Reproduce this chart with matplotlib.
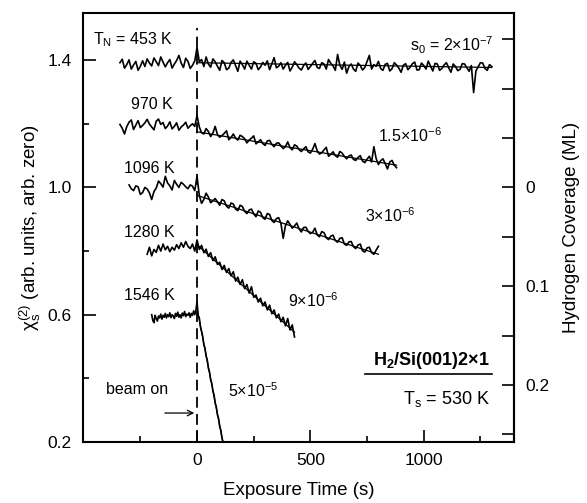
import numpy as np
import matplotlib
matplotlib.use('Agg')
import matplotlib.pyplot as plt
from matplotlib.ticker import FixedLocator

plt.rcParams['font.family'] = ['Liberation Sans', 'DejaVu Sans']
plt.rcParams['mathtext.fontset'] = 'custom'
plt.rcParams['mathtext.rm'] = 'Liberation Sans'
plt.rcParams['mathtext.it'] = 'Liberation Sans:italic'
plt.rcParams['mathtext.bf'] = 'Liberation Sans:bold'

# --- data (chi_s^(2) signal vs exposure time) ---
# 453 K, from t = -340 s every 10 s
t0_453, dt_453 = -340, 10
chi_453 = [1.392, 1.403, 1.375, 1.386, 1.401, 1.372, 1.385, 1.396, 1.368, 1.381,
           1.398, 1.380, 1.404, 1.391, 1.382, 1.407, 1.395, 1.383, 1.410, 1.394,
           1.379, 1.392, 1.402, 1.375, 1.388, 1.399, 1.415, 1.391, 1.377, 1.406,
           1.396, 1.374, 1.384, 1.398, 1.440, 1.395, 1.402, 1.380, 1.410, 1.388,
           1.378, 1.404, 1.395, 1.381, 1.368, 1.399, 1.392, 1.370, 1.375, 1.393,
           1.401, 1.383, 1.365, 1.397, 1.386, 1.372, 1.397, 1.384, 1.372, 1.395,
           1.390, 1.370, 1.379, 1.393, 1.384, 1.398, 1.370, 1.389, 1.408, 1.376,
           1.381, 1.392, 1.372, 1.384, 1.393, 1.366, 1.378, 1.395, 1.386, 1.375,
           1.369, 1.383, 1.391, 1.371, 1.380, 1.390, 1.399, 1.377, 1.374, 1.392,
           1.388, 1.372, 1.402, 1.390, 1.382, 1.368, 1.418, 1.384, 1.371, 1.394,
           1.359, 1.380, 1.388, 1.372, 1.365, 1.391, 1.383, 1.369, 1.377, 1.396,
           1.415, 1.372, 1.386, 1.381, 1.396, 1.374, 1.368, 1.387, 1.390, 1.366,
           1.373, 1.392, 1.385, 1.375, 1.362, 1.384, 1.389, 1.370, 1.378, 1.389,
           1.394, 1.369, 1.370, 1.391, 1.383, 1.372, 1.397, 1.381, 1.366, 1.390,
           1.388, 1.368, 1.374, 1.385, 1.392, 1.376, 1.362, 1.388, 1.380, 1.367,
           1.371, 1.389, 1.388, 1.376, 1.365, 1.383, 1.298, 1.366, 1.379, 1.392,
           1.391, 1.374, 1.368, 1.386, 1.380]

# 970 K, from t = -340 s every 10 s
t0_970, dt_970 = -340, 10
chi_970 = [1.198, 1.186, 1.168, 1.191, 1.205, 1.212, 1.182, 1.196, 1.210, 1.188,
           1.195, 1.203, 1.214, 1.199, 1.190, 1.181, 1.208, 1.215, 1.198, 1.204,
           1.185, 1.193, 1.206, 1.184, 1.192, 1.203, 1.180, 1.190, 1.196, 1.205,
           1.186, 1.194, 1.200, 1.192, 1.226, 1.190, 1.172, 1.168, 1.185, 1.176,
           1.160, 1.171, 1.192, 1.166, 1.158, 1.163, 1.170, 1.178, 1.150, 1.157,
           1.168, 1.155, 1.149, 1.164, 1.160, 1.153, 1.140, 1.149, 1.155, 1.162,
           1.137, 1.143, 1.150, 1.138, 1.132, 1.146, 1.148, 1.135, 1.128, 1.139,
           1.140, 1.131, 1.122, 1.128, 1.143, 1.125, 1.118, 1.134, 1.130, 1.119,
           1.113, 1.121, 1.128, 1.112, 1.108, 1.120, 1.138, 1.115, 1.105, 1.109,
           1.118, 1.126, 1.098, 1.104, 1.112, 1.100, 1.095, 1.113, 1.108, 1.097,
           1.090, 1.099, 1.102, 1.088, 1.085, 1.094, 1.100, 1.083, 1.078, 1.089,
           1.098, 1.080, 1.128, 1.091, 1.072, 1.084, 1.090, 1.075, 1.058, 1.080,
           1.085, 1.070, 1.062]

# 1096 K, from t = -300 s every 10 s
t0_1096, dt_1096 = -300, 10
chi_1096 = [1.008, 0.996, 0.990, 1.005, 1.002, 0.978, 0.984, 1.000, 0.995, 0.983,
            0.962, 0.987, 0.998, 1.020, 1.012, 1.001, 1.035, 1.014, 1.005, 0.992,
            1.022, 1.010, 1.000, 1.016, 1.010, 1.002, 0.996, 1.008, 1.004, 0.990,
            1.035, 0.975, 0.950, 0.962, 0.982, 0.970, 0.952, 0.958, 0.965, 0.955,
            0.944, 0.962, 0.958, 0.941, 0.935, 0.951, 0.948, 0.932, 0.927, 0.944,
            0.940, 0.925, 0.918, 0.929, 0.932, 0.917, 0.908, 0.926, 0.922, 0.905,
            0.900, 0.918, 0.915, 0.896, 0.890, 0.902, 0.905, 0.887, 0.840, 0.880,
            0.895, 0.884, 0.872, 0.879, 0.888, 0.870, 0.860, 0.874, 0.875, 0.862,
            0.855, 0.859, 0.872, 0.851, 0.845, 0.861, 0.858, 0.842, 0.836, 0.847,
            0.850, 0.833, 0.828, 0.840, 0.842, 0.822, 0.818, 0.829, 0.830, 0.814,
            0.808, 0.819, 0.822, 0.801, 0.797, 0.810, 0.812, 0.795, 0.790, 0.803,
            0.815]

# 1280 K, from t = -220 s every 10 s
t0_1280, dt_1280 = -220, 10
chi_1280 = [0.790, 0.812, 0.785, 0.805, 0.796, 0.818, 0.800, 0.822, 0.804, 0.815,
            0.798, 0.812, 0.803, 0.820, 0.808, 0.826, 0.812, 0.830, 0.815, 0.808,
            0.822, 0.800, 0.835, 0.805, 0.818, 0.795, 0.806, 0.783, 0.795, 0.770,
            0.782, 0.758, 0.765, 0.742, 0.755, 0.733, 0.745, 0.722, 0.735, 0.706,
            0.718, 0.695, 0.710, 0.682, 0.695, 0.668, 0.688, 0.655, 0.662, 0.640,
            0.652, 0.628, 0.640, 0.615, 0.630, 0.603, 0.615, 0.590, 0.602, 0.578,
            0.592, 0.565, 0.588, 0.552, 0.568, 0.530]

# 1546 K, from t = -200 s every 5 s
t0_1546, dt_1546 = -200, 5
chi_1546 = [0.600, 0.582, 0.575, 0.598, 0.588, 0.580, 0.596, 0.590, 0.602, 0.586,
            0.598, 0.592, 0.604, 0.590, 0.600, 0.594, 0.606, 0.591, 0.600, 0.596,
            0.588, 0.604, 0.595, 0.608, 0.592, 0.600, 0.590, 0.605, 0.597, 0.610,
            0.594, 0.602, 0.598, 0.606, 0.592, 0.604, 0.598, 0.612, 0.600, 0.615,
            0.640, 0.598, 0.590, 0.562, 0.548, 0.532, 0.505, 0.495, 0.470, 0.458,
            0.432, 0.420, 0.395, 0.385, 0.360, 0.348, 0.322, 0.310, 0.285, 0.274,
            0.248, 0.237, 0.212, 0.200, 0.176]

# straight-line fits after beam on
fit_end_t = [1300, 880, 800, 430, 120]
fit_start_chi = [1.392, 1.175, 0.975, 0.820, 0.620]
fit_end_chi = [1.377, 1.070, 0.790, 0.545, 0.178]

temps = ['T$_\\mathrm{N}$ = 453 K', '970 K', '1096 K', '1280 K', '1546 K']
s0_labels = ['s$_0$ = 2×10$^{-7}$', '1.5×10$^{-6}$', '3×10$^{-6}$',
             '9×10$^{-6}$', '5×10$^{-5}$']

# coverage scale on the right: chi = 1.0 -> 0 ML
k_cov = 0.3223

fig = plt.figure(figsize=(5.87, 5.03), dpi=100)
ax = fig.add_axes([0.1414, 0.1213, 0.7342, 0.8527])

traces = [(t0_453, dt_453, chi_453), (t0_970, dt_970, chi_970),
          (t0_1096, dt_1096, chi_1096), (t0_1280, dt_1280, chi_1280),
          (t0_1546, dt_1546, chi_1546)]
for t0, dt, c in traces:
    t = t0 + dt * np.arange(len(c))
    ax.plot(t, c, color='black', lw=1.2)
for te, c0, c1 in zip(fit_end_t, fit_start_chi, fit_end_chi):
    ax.plot([0, te], [c0, c1], color='black', lw=0.9)

ax.plot([0, 0], [0.2, 1.50], color='black', lw=1.3, dashes=(6, 3.5))

ax.set_xlim(-503, 1398)
ax.set_ylim(0.2, 1.548)

fs = 11.5
# temperature labels
ax.text(-459, 1.463, temps[0], fontsize=fs, ha='left', va='center')
ax.text(-106, 1.261, temps[1], fontsize=fs, ha='right', va='center')
ax.text(-97, 1.060, temps[2], fontsize=fs, ha='right', va='center')
ax.text(-97, 0.858, temps[3], fontsize=fs, ha='right', va='center')
ax.text(-97, 0.660, temps[4], fontsize=fs, ha='right', va='center')

# sticking coefficient labels
ax.text(1306, 1.447, s0_labels[0], fontsize=fs, ha='right', va='center')
ax.text(798, 1.164, s0_labels[1], fontsize=fs, ha='left', va='center')
ax.text(741, 0.912, s0_labels[2], fontsize=fs, ha='left', va='center')
ax.text(401, 0.644, s0_labels[3], fontsize=fs, ha='left', va='center')
ax.text(137, 0.361, s0_labels[4], fontsize=fs, ha='left', va='center')

ax.text(-401, 0.364, 'beam on', fontsize=fs, ha='left', va='center')
ax.annotate('', xy=(0, 0.291), xytext=(-154, 0.291),
            arrowprops=dict(arrowstyle='->', color='black', lw=0.9))

ax.text(1292, 0.455, 'H$_\\mathbf{2}$/Si(001)2×1', fontsize=13, fontweight='bold',
        ha='right', va='center')
ax.plot([741, 1301], [0.414, 0.414], color='black', lw=1.2)
ax.text(1292, 0.335, 'T$_\\mathrm{s}$ = 530 K', fontsize=13, ha='right', va='center')

# axes styling
for sp in ax.spines.values():
    sp.set_linewidth(1.5)
ax.xaxis.set_major_locator(FixedLocator([0, 500, 1000]))
ax.xaxis.set_minor_locator(FixedLocator([-250, 250, 750, 1250]))
ax.yaxis.set_major_locator(FixedLocator([0.2, 0.6, 1.0, 1.4]))
ax.yaxis.set_minor_locator(FixedLocator([0.4, 0.8, 1.2]))
ax.yaxis.set_major_formatter(plt.FuncFormatter(lambda v, p: f'{v:.1f}'))
ax.tick_params(which='both', direction='in', width=1.2, labelsize=12.5,
               top=False, right=False)
ax.tick_params(which='major', length=9)
ax.tick_params(which='minor', length=4.5)
ax.tick_params(axis='y', pad=8)
ax.tick_params(axis='x', pad=8)

ax.set_xlabel('Exposure Time (s)', fontsize=13.5, labelpad=10)
ax.set_ylabel('χ$_\\mathrm{s}^{(2)}$ (arb. units, arb. zero)', fontsize=13.5, labelpad=3)

sec = ax.secondary_yaxis('right', functions=(lambda c: (1.0 - c) * k_cov,
                                              lambda h: 1.0 - h / k_cov))
sec.yaxis.set_major_locator(FixedLocator([-0.1, 0.0, 0.1, 0.2]))
sec.yaxis.set_minor_locator(FixedLocator([-0.15, -0.05, 0.05, 0.15, 0.25]))
sec.yaxis.set_major_formatter(plt.FuncFormatter(
    lambda v, p: '' if v < -0.01 else ('0' if abs(v) < 1e-9 else f'{v:.1f}')))
sec.spines['right'].set_linewidth(1.5)
sec.tick_params(which='both', direction='in', width=1.2, labelsize=12.5, pad=8)
sec.tick_params(which='major', length=9)
sec.tick_params(which='minor', length=9)
sec.set_ylabel('Hydrogen Coverage (ML)', fontsize=13.5, labelpad=10)

fig.savefig('out.png', dpi=100)
